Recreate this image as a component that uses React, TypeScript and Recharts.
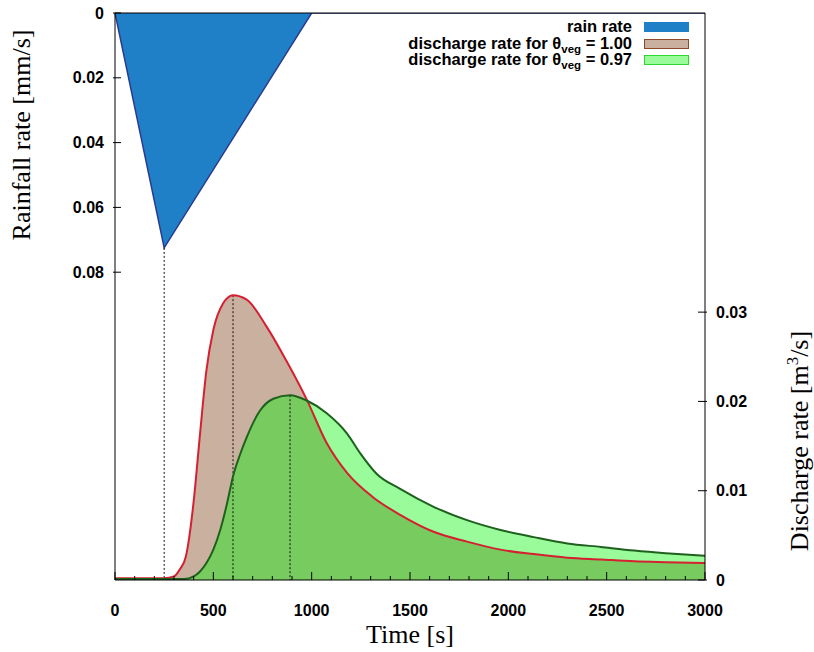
import React from 'react';
import { ComposedChart, Area, Line, XAxis, YAxis } from 'recharts';

// rain hyetograph (triangle)
const rainTime = [0, 250, 1000, 3000];
const rainRate = [0, 0.0725, 0, 0];

// outlet discharge, theta_veg = 1.00
const timeFull = [0, 250, 300, 330, 360, 400, 430, 465, 500, 550, 600, 670, 770, 870, 975, 1075, 1180, 1310, 1450, 1620, 1790, 1960, 2130, 2300, 2470, 2640, 2800, 3000];
const dischargeFull = [0.0002, 0.0002, 0.0004, 0.0012, 0.0026, 0.0088, 0.0158, 0.0235, 0.028, 0.031, 0.0319, 0.0314, 0.0284, 0.0246, 0.0202, 0.0154, 0.012, 0.0093, 0.0073, 0.0054, 0.0043, 0.0034, 0.0029, 0.0025, 0.0023, 0.0021, 0.002, 0.0019];

// outlet discharge, theta_veg = 0.97
const timeVeg = [0, 350, 400, 430, 465, 500, 535, 570, 600, 635, 670, 735, 805, 890, 975, 1075, 1180, 1250, 1330, 1450, 1620, 1790, 1960, 2130, 2300, 2470, 2640, 2800, 3000];
const dischargeVeg = [0.0001, 0.0001, 0.0004, 0.0009, 0.0019, 0.0034, 0.0056, 0.0086, 0.0116, 0.014, 0.016, 0.0189, 0.0203, 0.0207, 0.0201, 0.0187, 0.0164, 0.0141, 0.0119, 0.0102, 0.0082, 0.0067, 0.0056, 0.0048, 0.0041, 0.0037, 0.0033, 0.003, 0.0027];

const timeMajorTicks = [0, 500, 1000, 1500, 2000, 2500, 3000];
const rainTicks = [0, 0.02, 0.04, 0.06, 0.08];
const dischargeTicks = [0, 0.01, 0.02, 0.03];

const TIME_MAX = 3000;
const RAIN_MAX = 0.175;
const DISCHARGE_MAX = 0.0635;

const timeTicks = Array.from({ length: TIME_MAX / 100 + 1 }, (_, i) => i * 100);

type Pt = { t: number; v: number };
const toPoints = (ts: number[], vs: number[]): Pt[] => ts.map((t, i) => ({ t, v: vs[i] }));
const peakOf = (pts: Pt[]) => pts.reduce((a, b) => (b.v > a.v ? b : a));

const rainData = toPoints(rainTime, rainRate);
const fullData = toPoints(timeFull, dischargeFull);
const vegData = toPoints(timeVeg, dischargeVeg);

const rainPeak = peakOf(rainData);
const fullPeak = peakOf(fullData);
const vegPeak = peakOf(vegData);

// dotted drop lines under each peak
const rainDrop = [{ t: rainPeak.t, v: rainPeak.v }, { t: rainPeak.t, v: RAIN_MAX }];
const fullDrop = [{ t: fullPeak.t, v: fullPeak.v }, { t: fullPeak.t, v: 0 }];
const vegDrop = [{ t: vegPeak.t, v: vegPeak.v }, { t: vegPeak.t, v: 0 }];

const SANS = '"Liberation Sans", Arial, sans-serif';
const SERIF = '"Liberation Serif", "Times New Roman", serif';
const TICK_FONT = { fontFamily: SANS, fontWeight: 700, fontSize: 16, fill: '#000' };

const fmt = (v: number) => (v === 0 ? '0' : v.toFixed(2));

const BottomTick = (props: any) => {
  const { x, y, payload } = props;
  const major = timeMajorTicks.includes(payload.value);
  return (
    <g>
      <line x1={x} x2={x} y1={y} y2={y - (major ? 8 : 4)} stroke="#000" />
      {major && (
        <text x={x} y={y + 36} textAnchor="middle" {...TICK_FONT}>
          {payload.value}
        </text>
      )}
    </g>
  );
};

const TopTick = (props: any) => {
  const { x, y, payload } = props;
  const major = timeMajorTicks.includes(payload.value);
  return <line x1={x} x2={x} y1={y} y2={y + (major ? 8 : 4)} stroke="#000" />;
};

const RainTick = (props: any) => {
  const { x, y, payload } = props;
  return (
    <g>
      <line x1={x - 2} x2={x + 6} y1={y} y2={y} stroke="#000" />
      <text x={x - 11} y={y} dy="0.35em" textAnchor="end" {...TICK_FONT}>
        {fmt(payload.value)}
      </text>
    </g>
  );
};

const DischargeTick = (props: any) => {
  const { x, y, payload } = props;
  return (
    <g>
      <line x1={x - 7} x2={x + 2} y1={y} y2={y} stroke="#000" />
      <text x={x + 11} y={y} dy="0.35em" textAnchor="start" {...TICK_FONT}>
        {fmt(payload.value)}
      </text>
    </g>
  );
};

const legendRows = [
  { label: 'rain rate', theta: null, fill: '#1f80c8', border: '#1f80c8' },
  { label: 'discharge rate for ', theta: '1.00', fill: '#c9b09f', border: '#8b4a2b' },
  { label: 'discharge rate for ', theta: '0.97', fill: '#99fb99', border: '#2ed82e' },
];

const ChartLegend = () => (
  <>
    {legendRows.map((row, i) => {
      const cy = 26.5 + i * 16.7;
      return (
        <React.Fragment key={i}>
          <div
            style={{
              position: 'absolute',
              left: 300,
              width: 332,
              textAlign: 'right',
              top: cy - 9.5,
              height: 18,
              lineHeight: '18px',
              whiteSpace: 'nowrap',
              fontFamily: SANS,
              fontWeight: 700,
              fontSize: 16.5,
              color: '#000',
            }}
          >
            {row.label}
            {row.theta && (
              <>
                θ
                <span style={{ fontSize: 11.5, position: 'relative', top: 4 }}>veg</span>
                {' = ' + row.theta}
              </>
            )}
          </div>
          <div
            style={{
              position: 'absolute',
              left: 644,
              top: cy - 4.5,
              width: 43,
              height: 8,
              background: row.fill,
              border: `1px solid ${row.border}`,
            }}
          />
        </React.Fragment>
      );
    })}
  </>
);

export default function App() {
  return (
    <div style={{ position: 'absolute', left: 0, top: 0, width: 814, height: 652, background: '#fff' }}>
      <ComposedChart width={814} height={652} margin={{ top: 3, right: 49, bottom: 32, left: 55 }}>
        <XAxis
          dataKey="t"
          type="number"
          domain={[0, TIME_MAX]}
          ticks={timeTicks}
          interval={0}
          height={40}
          tickSize={0}
          tickMargin={0}
          tickLine={false}
          axisLine={{ stroke: '#000' }}
          tick={<BottomTick />}
        />
        <XAxis
          xAxisId="top"
          orientation="top"
          dataKey="t"
          type="number"
          domain={[0, TIME_MAX]}
          ticks={timeTicks}
          interval={0}
          height={10}
          tickSize={0}
          tickMargin={0}
          tickLine={false}
          axisLine={{ stroke: '#000' }}
          tick={<TopTick />}
        />
        <YAxis
          yAxisId="rain"
          type="number"
          domain={[0, RAIN_MAX]}
          reversed
          ticks={rainTicks}
          interval={0}
          width={60}
          tickSize={0}
          tickMargin={0}
          tickLine={false}
          axisLine={{ stroke: '#000' }}
          tick={<RainTick />}
          allowDataOverflow
        />
        <YAxis
          yAxisId="q"
          orientation="right"
          type="number"
          domain={[0, DISCHARGE_MAX]}
          ticks={dischargeTicks}
          interval={0}
          width={60}
          tickSize={0}
          tickMargin={0}
          tickLine={false}
          axisLine={{ stroke: '#000' }}
          tick={<DischargeTick />}
          allowDataOverflow
        />

        <Area
          yAxisId="rain"
          data={rainData}
          dataKey="v"
          type="linear"
          fill="#1f80c8"
          fillOpacity={1}
          stroke="#2b3a8f"
          strokeWidth={1.5}
          dot={false}
          activeDot={false}
          isAnimationActive={false}
        />
        <Area
          yAxisId="q"
          data={fullData}
          dataKey="v"
          type="monotone"
          fill="#c9b09f"
          fillOpacity={1}
          stroke="none"
          dot={false}
          activeDot={false}
          isAnimationActive={false}
        />
        {[
          { id: 'rain', data: rainDrop, axis: 'rain' },
          { id: 'full', data: fullDrop, axis: 'q' },
          { id: 'veg', data: vegDrop, axis: 'q' },
        ].map((d) => (
          <Line
            key={d.id}
            yAxisId={d.axis}
            data={d.data}
            dataKey="v"
            type="linear"
            stroke="#111"
            strokeWidth={1}
            strokeDasharray="2 2"
            dot={false}
            activeDot={false}
            isAnimationActive={false}
          />
        ))}
        <Area
          yAxisId="q"
          data={vegData}
          dataKey="v"
          type="monotone"
          fill="#00f400"
          fillOpacity={0.4}
          stroke="none"
          dot={false}
          activeDot={false}
          isAnimationActive={false}
        />
        <Line
          yAxisId="q"
          data={fullData}
          dataKey="v"
          type="monotone"
          stroke="#d42030"
          strokeWidth={2}
          dot={false}
          activeDot={false}
          isAnimationActive={false}
        />
        <Line
          yAxisId="q"
          data={vegData}
          dataKey="v"
          type="monotone"
          stroke="#1d611d"
          strokeWidth={2}
          dot={false}
          activeDot={false}
          isAnimationActive={false}
        />
      </ComposedChart>

      <ChartLegend />

      <div
        style={{
          position: 'absolute',
          left: 22,
          top: 135,
          transform: 'translate(-50%, -50%) rotate(-90deg)',
          whiteSpace: 'nowrap',
          fontFamily: SERIF,
          fontSize: 26,
          lineHeight: 1,
        }}
      >
        Rainfall rate [mm/s]
      </div>
      <div
        style={{
          position: 'absolute',
          left: 800,
          top: 441,
          transform: 'translate(-50%, -50%) rotate(-90deg)',
          whiteSpace: 'nowrap',
          fontFamily: SERIF,
          fontSize: 26,
          lineHeight: 1,
        }}
      >
        Discharge rate [m<sup style={{ fontSize: 17, lineHeight: 0 }}>3</sup>/s]
      </div>
      <div
        style={{
          position: 'absolute',
          left: 410,
          top: 635,
          transform: 'translate(-50%, -50%)',
          whiteSpace: 'nowrap',
          fontFamily: SERIF,
          fontSize: 26,
          lineHeight: 1,
        }}
      >
        Time [s]
      </div>
    </div>
  );
}
